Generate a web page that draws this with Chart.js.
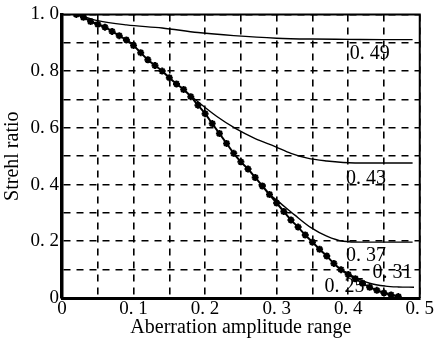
<!DOCTYPE html>
<html>
<head>
<meta charset="utf-8">
<script src="https://cdn.jsdelivr.net/npm/chart.js@4.4.0/dist/chart.umd.min.js"></script>
<style>html,body{margin:0;background:#fff}</style>
</head>
<body>
<div style="width:434px;height:343px"><canvas id="chart"></canvas></div>
<script>
// 主曲線（星印付き、0.25 の曲線と重なる）
const mainX = [0.02,0.03,0.04,0.05,0.06,0.07,0.08,0.09,0.10,0.11,0.12,0.13,0.14,0.15,0.16,0.17,0.18,0.19,0.20,0.21,0.22,0.23,0.24,0.25,0.26,0.27,0.28,0.29,0.30,0.31,0.32,0.33,0.34,0.35,0.36,0.37,0.38,0.39,0.40,0.41,0.42,0.43,0.44,0.45,0.46,0.47];
const mainY = [1.0,0.99,0.975,0.965,0.955,0.94,0.925,0.91,0.89,0.865,0.84,0.82,0.80,0.777,0.755,0.735,0.71,0.68,0.65,0.615,0.58,0.545,0.51,0.48,0.455,0.425,0.395,0.365,0.335,0.305,0.275,0.25,0.222,0.197,0.172,0.148,0.122,0.10,0.083,0.068,0.052,0.038,0.027,0.018,0.011,0.005];
// 分岐する曲線
const c49X = [0.02,0.05,0.09,0.14,0.19,0.24,0.30,0.35,0.40,0.45,0.49];
const c49Y = [1.0,0.978,0.963,0.952,0.936,0.925,0.916,0.913,0.912,0.911,0.911];
const c43X = [0.17,0.19,0.216,0.243,0.27,0.298,0.32,0.343,0.37,0.393,0.43,0.49];
const c43Y = [0.735,0.692,0.641,0.597,0.562,0.534,0.51,0.493,0.483,0.478,0.476,0.476];
const c37X = [0.29,0.30,0.325,0.348,0.37,0.393,0.42,0.49];
const c37Y = [0.365,0.345,0.293,0.248,0.218,0.2,0.197,0.197];
const c31X = [0.39,0.407,0.43,0.452,0.47,0.492];
const c31Y = [0.10,0.076,0.052,0.042,0.039,0.038];
// 曲線ラベル（データ座標）
const curveLabels = ['0. 49','0. 43','0. 37','0. 31','0. 25'];
const labelX = [0.43,0.425,0.425,0.462,0.395];
const labelY = [0.862,0.421,0.148,0.09,0.038];

const serif = "'Liberation Serif','DejaVu Serif',serif";
const pts = (xs, ys) => xs.map((x, i) => ({x: x, y: ys[i]}));
const thin = (xs, ys) => ({
    data: pts(xs, ys), borderColor: '#000', borderWidth: 1.4,
    pointRadius: 0, cubicInterpolationMode: 'monotone', fill: false
});

const labelPlugin = {
    id: 'labels',
    afterDatasetsDraw(chart) {
        const ctx = chart.ctx, xs = chart.scales.x, ys = chart.scales.y, a = chart.chartArea;
        ctx.save();
        ctx.fillStyle = '#000';
        ctx.font = '20px ' + serif;
        ctx.textAlign = 'center';
        ctx.textBaseline = 'middle';
        curveLabels.forEach((t, i) => {
            ctx.fillText(t, xs.getPixelForValue(labelX[i]), ys.getPixelForValue(labelY[i]));
        });
        // 上と右の枠線
        ctx.strokeStyle = '#000';
        ctx.lineWidth = 2;
        ctx.beginPath();
        ctx.moveTo(a.left, a.top);
        ctx.lineTo(a.right, a.top);
        ctx.lineTo(a.right, a.bottom);
        ctx.stroke();
        ctx.restore();
    }
};

new Chart(document.getElementById('chart'), {
    type: 'line',
    data: {
        datasets: [
            {
                data: pts(mainX, mainY), borderColor: '#000', backgroundColor: '#000',
                borderWidth: 2, pointStyle: 'star', pointRadius: 3.5, pointBorderWidth: 2,
                cubicInterpolationMode: 'monotone', fill: false
            },
            thin(c49X, c49Y), thin(c43X, c43Y), thin(c37X, c37Y), thin(c31X, c31Y)
        ]
    },
    options: {
        responsive: true,
        maintainAspectRatio: false,
        animation: false,
        layout: { padding: { top: 8, right: 6, left: 0, bottom: 0 } },
        plugins: { legend: { display: false }, tooltip: { enabled: false } },
        scales: {
            x: {
                type: 'linear', min: 0, max: 0.5,
                afterFit: (s) => { s.height = 45; },
                grid: { color: '#000', lineWidth: 1.6, drawTicks: false },
                border: { color: '#000', width: 3, dash: [7, 6] },
                ticks: {
                    stepSize: 0.05, color: '#000', padding: 0,
                    font: { family: serif, size: 19 },
                    maxRotation: 0, autoSkip: false,
                    callback: (v) => {
                        const k = Math.round(v * 100);
                        if (k % 10 !== 0) return '';
                        return k === 0 ? '0' : '0. ' + (k / 10);
                    }
                },
                title: {
                    display: true, text: 'Aberration amplitude range', color: '#000',
                    font: { family: serif, size: 20 }, padding: { top: 0, bottom: 3 }
                }
            },
            y: {
                type: 'linear', min: 0, max: 1,
                afterFit: (s) => { s.width = 62; },
                grid: { color: '#000', lineWidth: 1.6, drawTicks: false },
                border: { color: '#000', width: 3.5, dash: [7, 6] },
                ticks: {
                    stepSize: 0.1, color: '#000', padding: 3,
                    font: { family: serif, size: 19 },
                    autoSkip: false,
                    callback: (v) => {
                        const k = Math.round(v * 10);
                        if (k % 2 !== 0) return '';
                        if (k === 0) return '0';
                        if (k === 10) return '1. 0';
                        return '0. ' + k;
                    }
                },
                title: {
                    display: true, text: 'Strehl ratio', color: '#000',
                    font: { family: serif, size: 20 }, padding: { top: 1, bottom: 0 }
                }
            }
        }
    },
    plugins: [labelPlugin]
});
</script>
</body>
</html>
